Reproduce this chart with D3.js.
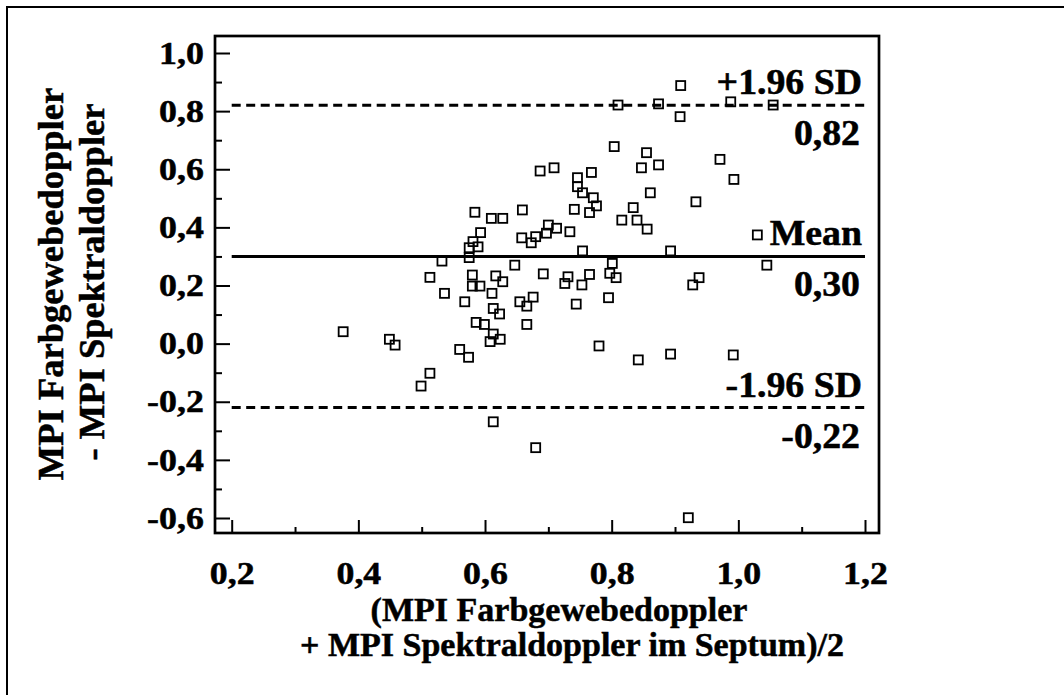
<html>
<head>
  <title>MPI Bland-Altman</title>
  <meta charset="utf-8" />
<style>
  html, body {
    margin: 0;
    padding: 0;
    background: #fff;
  }
  svg { display: block; }
  text {
    font-family: "Liberation Serif", "Times New Roman", serif;
    font-weight: bold;
    fill: #000;
    stroke: #000;
    stroke-width: 0.5;
  }
</style>
</head>
<body>
  <div id="graph"></div>
<script src="https://cdnjs.cloudflare.com/ajax/libs/d3/7.8.5/d3.min.js"></script>
<script>

// (MPI Farbgewebedoppler + MPI Spektraldoppler)/2
var meanValues = [
  0.687, 0.709, 0.584, 0.610, 0.628, 0.659, 0.593, 0.581, 0.589, 0.575,
  0.575, 0.658, 0.673, 0.680, 0.700, 0.713, 0.697, 0.734, 0.532, 0.647,
  0.692, 0.513, 0.580, 0.617, 0.628, 0.580, 0.592, 0.536, 0.611, 0.676,
  0.568, 0.655, 0.666, 0.613, 0.623, 0.586, 0.599, 0.666, 0.613, 0.624,
  0.608, 0.376, 0.449, 0.458, 0.560, 0.574, 0.513, 0.499, 0.613, 0.680,
  0.909, 0.810, 0.874, 0.908, 0.988, 1.055, 0.804, 0.855, 0.847, 0.874,
  0.971, 0.993, 0.768, 0.746, 0.746, 0.754, 0.771, 0.776, 0.765, 0.741,
  0.861, 0.834, 0.816, 0.840, 0.856, 0.933, 1.030, 0.754, 0.893, 1.045,
  0.801, 0.797, 0.807, 0.731, 0.765, 0.753, 0.726, 0.938, 0.928, 0.795,
  0.744, 0.780, 0.842, 0.893, 0.992, 0.921
];
// MPI Farbgewebedoppler - MPI Spektraldoppler
var diffValues = [
  0.594, 0.605, 0.452, 0.431, 0.431, 0.460, 0.382, 0.351, 0.333, 0.330,
  0.296, 0.364, 0.347, 0.368, 0.408, 0.397, 0.380, 0.385, 0.284, 0.270,
  0.240, 0.228, 0.236, 0.233, 0.213, 0.198, 0.198, 0.173, 0.173, 0.160,
  0.144, 0.144, 0.129, 0.121, 0.102, 0.073, 0.066, 0.066, 0.033, 0.015,
  0.007, 0.041, 0.015, -0.005, -0.020, -0.047, -0.102, -0.146, -0.269, -0.358,
  0.888, 0.821, 0.825, 0.781, 0.832, 0.821, 0.678, 0.657, 0.605, 0.615,
  0.634, 0.565, 0.589, 0.571, 0.540, 0.519, 0.502, 0.474, 0.451, 0.462,
  0.519, 0.468, 0.425, 0.425, 0.394, 0.488, 0.374, 0.319, 0.319, 0.270,
  0.276, 0.242, 0.227, 0.230, 0.238, 0.202, 0.207, 0.227, 0.202, 0.158,
  0.136, -0.008, -0.056, -0.036, -0.039, -0.599
];

var xTicks = [0.2, 0.4, 0.6, 0.8, 1.0, 1.2];
var xTickLabels = ["0,2", "0,4", "0,6", "0,8", "1,0", "1,2"];
var xMinorTicks = [0.3, 0.5, 0.7, 0.9, 1.1];
var yTicks = [1.0, 0.8, 0.6, 0.4, 0.2, 0.0, -0.2, -0.4, -0.6];
var yTickLabels = ["1,0", "0,8", "0,6", "0,4", "0,2", "0,0", "-0,2", "-0,4", "-0,6"];
var yMinorTicks = [0.9, 0.7, 0.5, 0.3, 0.1, -0.1, -0.3, -0.5];

// mean difference and limits of agreement
var refValues = [0.82, 0.30, -0.22];
var refNames = ["+1.96 SD", "Mean", "-1.96 SD"];
var refLabels = ["0,82", "0,30", "-0,22"];
var refDashed = [true, false, true];

var width = 1064, height = 695;
var box = {left: 215, top: 36, right: 879, bottom: 533};

var svg = d3.select("#graph").append("svg")
    .attr("width", width)
    .attr("height", height);

var x = d3.scaleLinear().domain([0.2, 1.2]).range([231.7, 865]);
var y = d3.scaleLinear().domain([-0.6, 1.0]).range([518, 53]);

// outer frame (runs off the page right / bottom)
svg.append("rect")
    .attr("x", 7).attr("y", 7)
    .attr("width", 1200).attr("height", 1000)
    .attr("fill", "none")
    .attr("stroke", "#000")
    .attr("stroke-width", 2);

// y axis, ticks pointing inwards
svg.append("g")
    .attr("transform", "translate(" + box.left + ",0)")
    .call(d3.axisLeft(y)
      .tickValues(yTicks)
      .tickFormat(function(d, i) { return yTickLabels[i]; })
      .tickSizeInner(-15)
      .tickSizeOuter(0)
      .tickPadding(10));
svg.append("g")
    .attr("transform", "translate(" + box.left + ",0)")
    .call(d3.axisLeft(y).tickValues(yMinorTicks).tickFormat("").tickSizeInner(-7).tickSizeOuter(0));

svg.append("g")
    .attr("transform", "translate(0," + box.bottom + ")")
    .call(d3.axisBottom(x)
      .tickValues(xTicks)
      .tickFormat(function(d, i) { return xTickLabels[i]; })
      .tickSizeInner(-13)
      .tickSizeOuter(0)
      .tickPadding(28));
svg.append("g")
    .attr("transform", "translate(0," + box.bottom + ")")
    .call(d3.axisBottom(x).tickValues(xMinorTicks).tickFormat("").tickSizeInner(-6).tickSizeOuter(0));

svg.selectAll(".domain").remove();
svg.selectAll(".tick line").attr("stroke", "#000").attr("stroke-width", 2);
svg.selectAll(".tick text")
    .attr("font-size", 32)
    .attr("font-family", "Liberation Serif, Times New Roman, serif")
    .attr("font-weight", "bold")
    .attr("transform", "scale(1.12,1)");

// plot frame
svg.append("rect")
    .attr("x", box.left).attr("y", box.top)
    .attr("width", box.right - box.left)
    .attr("height", box.bottom - box.top)
    .attr("fill", "none")
    .attr("stroke", "#000")
    .attr("stroke-width", 2.7);

// reference lines
var refs = refValues.map(function(v, i) {
  return {v: v, name: refNames[i], label: refLabels[i], dashed: refDashed[i]};
});

svg.append("g").selectAll("line")
    .data(refs)
    .enter().append("line")
    .attr("x1", x(0.2))
    .attr("x2", x(1.2))
    .attr("y1", function(d) { return y(d.v); })
    .attr("y2", function(d) { return y(d.v); })
    .attr("stroke", "#000")
    .attr("stroke-width", 3)
    .style("stroke-dasharray", function(d) { return d.dashed ? "9, 5.5" : null; });

var refText = svg.append("g")
    .attr("font-size", 35)
    .attr("text-anchor", "end");
refText.selectAll("text.name")
    .data(refs)
    .enter().append("text")
    .attr("class", "name")
    .attr("transform", function(d) { return "translate(862," + (y(d.v) - 11) + ") scale(1.08,1)"; })
    .text(function(d) { return d.name; });
refText.selectAll("text.val")
    .data(refs)
    .enter().append("text")
    .attr("class", "val")
    .attr("transform", function(d) { return "translate(860," + (y(d.v) + 40) + ") scale(1.08,1)"; })
    .text(function(d) { return d.label; });

// points
var pts = meanValues.map(function(m, i) { return {m: m, d: diffValues[i]}; });
var s = 9;
svg.append("g").selectAll("rect")
    .data(pts)
    .enter().append("rect")
    .attr("x", function(d) { return x(d.m) - s / 2; })
    .attr("y", function(d) { return y(d.d) - s / 2; })
    .attr("width", s)
    .attr("height", s)
    .attr("fill", "none")
    .attr("stroke", "#000")
    .attr("stroke-width", 1.8);

// axis titles
var yTitle = svg.append("g")
    .attr("font-size", 36.5)
    .attr("text-anchor", "middle");
yTitle.append("text")
    .attr("transform", "translate(63,284) rotate(-90)")
    .text("MPI Farbgewebedoppler");
yTitle.append("text")
    .attr("transform", "translate(104,282) rotate(-90)")
    .text("- MPI Spektraldoppler");

var xTitle = svg.append("g")
    .attr("font-size", 34)
    .attr("text-anchor", "middle");
xTitle.append("text")
    .attr("x", 559).attr("y", 621)
    .text("(MPI Farbgewebedoppler");
xTitle.append("text")
    .attr("x", 572).attr("y", 656)
    .text("+ MPI Spektraldoppler im Septum)/2");

</script>
</body>
</html>
